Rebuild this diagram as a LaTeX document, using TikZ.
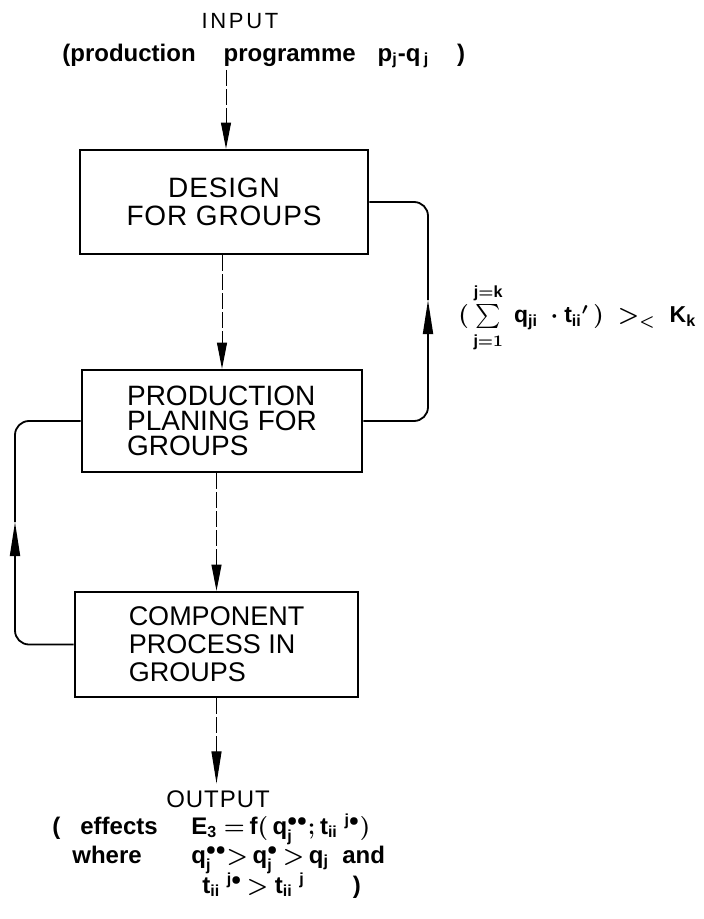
\documentclass[tikz,border=0pt]{standalone}
\usepackage{amsmath}
\usepackage{fontspec}
\setmainfont{Liberation Sans}
\setsansfont{Liberation Sans}
\usetikzlibrary{arrows.meta}
\newcommand{\sv}[1]{\mathsf{#1}}

\begin{document}
\begin{tikzpicture}[x=0.5pt, y=-0.5pt,
      box/.style={draw, line width=1.3pt, align=left, inner sep=3pt,
                  font=\fontsize{14}{14}\selectfont\addfontfeatures{LetterSpace=3}},
      flow/.style={line width=0.5pt, dash pattern=on 8pt off 1.5pt,
                   -{Triangle[length=13pt, width=5pt]}},
      fb/.style={line width=0.9pt, rounded corners=7pt},
      fbtip/.style={fb, -{Triangle[length=17pt, width=5pt]}},
      lbl/.style={font=\bfseries\boldmath\fontsize{12}{13}\selectfont, inner sep=1pt}]
      \useasboundingbox (0,0) rectangle (704,919);

      % input
      \node[font=\fontsize{11}{12}\selectfont\addfontfeatures{LetterSpace=12}] (inp) at (240,21) {INPUT};
      \node[lbl, anchor=west] (prog) at (60,56)
        {(production\hspace{14pt}programme\hspace{11pt}$\sv{p}_{\sv{j}}$-$\sv{q}_{\,\sv{j}}$\hspace{14pt})};
      \coordinate (inend) at (226,70);

      % blocks
      \node[box, minimum width=144pt, minimum height=52pt, align=center] (dg) at (224,202) {DESIGN\\FOR GROUPS};
      \node[box, minimum width=140pt, minimum height=51pt, font=\fontsize{14}{12.5}\selectfont] (pp) at (222,421) {PRODUCTION\\PLANING FOR\\GROUPS};
      \node[box, minimum width=141.5pt, minimum height=52.5pt, font=\fontsize{13.5}{14}\selectfont] (cp) at (216.5,644.5) {COMPONENT\\PROCESS IN\\GROUPS};

      \draw[flow] (inend) -- (inend |- dg.north);
      \draw[flow] (dg.south -| pp.north) -- (pp.north);
      \draw[flow] (pp.south -| cp.north) -- (cp.north);

      % feedback loops
      \coordinate (rtip) at (428,300);
      \draw[fbtip] (pp.east) -| (rtip);
      \draw[fb] (rtip) |- (dg.east);
      \node[lbl, anchor=west, font=\bfseries\boldmath\fontsize{11.5}{13}\selectfont] (cond) at (456,318)
        {$(\,\sum\limits_{\rule{0pt}{7pt}\sv{j}=1}^{\rule[-2.5pt]{0pt}{2.5pt}\sv{j}=\sv{k}}\ \sv{q}_{\sv{ji}}\ \cdot\sv{t}_{\sv{ii}}{}'\,)\ >_{<}\ \sv{K}_{\sv{k}}$};

      \coordinate (ltip) at (15,522);
      \draw[fbtip] (cp.west) -| (ltip);
      \draw[fb] (ltip) |- (pp.west);

      % output
      \node[font=\fontsize{12}{13}\selectfont\addfontfeatures{LetterSpace=4}] (outp) at (218,799) {OUTPUT};
      \draw[flow, -{Triangle[length=16pt, width=5pt]}] (cp.south) -- (cp.south |- outp.north);
      \node[lbl, anchor=base west] (eff) at (50,834) {(\hspace{10pt}effects};
      \node[lbl, anchor=base west] (effm) at (189,834)
        {$\sv{E}_{\sv{3}}\ {=}\,\sv{f}(\,\sv{q}_{\sv{j}}^{\bullet\bullet}{;}\,\sv{t}_{\sv{ii}}\ {}^{\sv{j}\bullet})$};
      \node[lbl, anchor=base west] (whr) at (70,863) {where};
      \node[lbl, anchor=base west] (rel) at (189,863)
        {$\sv{q}_{\sv{j}}^{\bullet\bullet}{>}\,\sv{q}_{\sv{j}}^{\bullet}\,{>}\,\sv{q}_{\sv{j}}$\ \ and};
      \node[lbl, anchor=base west] (rel2) at (200,893)
        {$\sv{t}_{\sv{ii}}\ {}^{\sv{j}\bullet}\,{>}\ \sv{t}_{\sv{ii}}\ {}^{\sv{j}}$\qquad)};
    \end{tikzpicture}
\end{document}
